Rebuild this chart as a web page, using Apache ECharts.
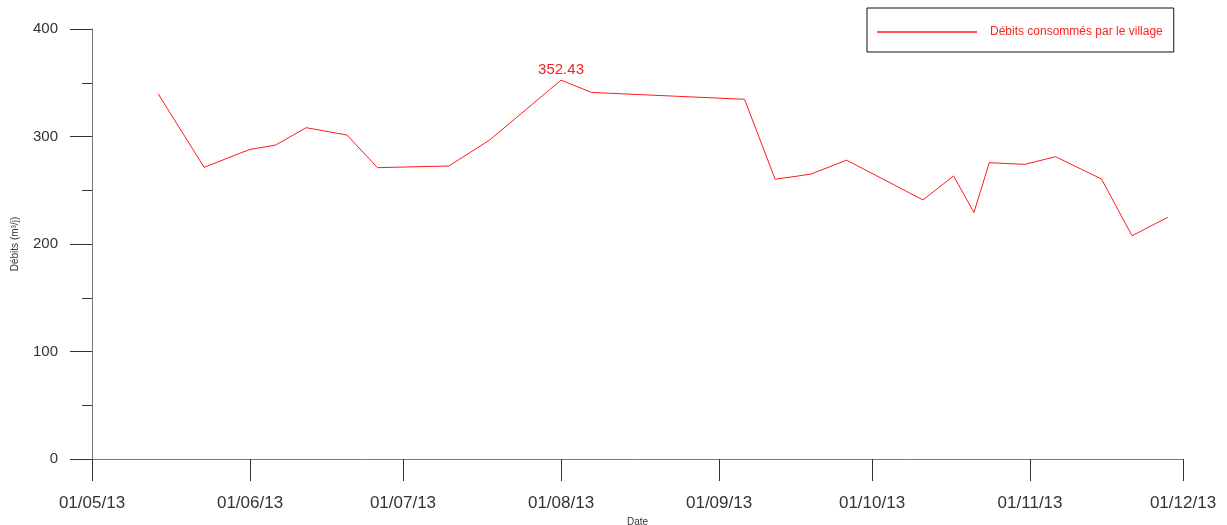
<!DOCTYPE html>
<html>
<head>
<meta charset="utf-8">
<script src="https://cdn.jsdelivr.net/npm/echarts@6/dist/echarts.min.js"></script>
<style>html,body{margin:0;padding:0;background:#fff}#c{width:1227px;height:525px}</style>
</head>
<body>
<div id="c"></div>
<script>
const dates = ['2013-05-14','2013-05-23','2013-05-30','2013-06-01','2013-06-06','2013-06-12','2013-06-20','2013-06-26','2013-07-10','2013-07-18','2013-08-01','2013-08-07','2013-09-06','2013-09-12','2013-09-19','2013-09-26','2013-10-11','2013-10-17','2013-10-21','2013-10-24','2013-10-31','2013-11-06','2013-11-15','2013-11-21','2013-11-28'];
const debits = [339.5,271.3,284.4,288,292,308.2,301.4,271,272.6,296.7,352.43,341,334.6,260.2,265,278,241,263.3,229.3,275.6,274.1,281.2,260.5,207.7,224.8];
const seriesName = 'Débits consommés par le village';
const xAxisName = 'Date';
const yAxisName = 'Débits (m³/j)';
const xMin = '2013-05-01';
const xMax = '2013-12-01';
const yTicks = [0,100,200,300,400];

function pad(n){return (n<10?'0':'')+n;}
const chart = echarts.init(document.getElementById('c'));
chart.setOption({
  animation:false,
  textStyle:{fontFamily:'Liberation Sans, Arial, sans-serif'},
  grid:{left:92,right:44,top:29,bottom:66,outerBoundsMode:'none',containLabel:false},
  legend:{
    left:867, top:8,
    padding:[18,11,14,10],
    borderColor:'#111', borderWidth:1,
    icon:'rect',
    itemWidth:100, itemHeight:1.5,
    textStyle:{color:'#ff2020',fontSize:12,padding:[0,0,0,8]},
    data:[seriesName]
  },
  xAxis:{
    type:'time',
    min:xMin, max:xMax,
    splitNumber:7,
    name:xAxisName, nameLocation:'middle', nameGap:54,
    nameTextStyle:{fontSize:10,color:'#333'},
    axisLine:{lineStyle:{color:'#777',width:1}},
    axisTick:{show:true,inside:false,length:22,lineStyle:{color:'#333'}},
    axisLabel:{
      fontSize:17,color:'#333',margin:36,showMaxLabel:true,showMinLabel:true,
      formatter:function(v){const d=new Date(v);return pad(d.getDate())+'/'+pad(d.getMonth()+1)+'/'+String(d.getFullYear()).slice(2);}
    },
    splitLine:{show:false},
    minorTick:{show:false}
  },
  yAxis:{
    type:'value',
    min:yTicks[0], max:yTicks[yTicks.length-1], interval:100,
    name:yAxisName, nameLocation:'middle', nameGap:72,
    nameTextStyle:{fontSize:10,color:'#333'},
    axisLine:{show:true,lineStyle:{color:'#777',width:1}},
    axisTick:{show:true,inside:false,length:22,lineStyle:{color:'#333'}},
    minorTick:{show:true,splitNumber:2,length:10,lineStyle:{color:'#333'}},
    axisLabel:{fontSize:15,color:'#333',margin:34},
    splitLine:{show:false}
  },
  series:[{
    name:seriesName,
    type:'line',
    data:dates.map((d,i)=>[d,debits[i]]),
    showSymbol:false,
    symbol:'none',
    lineStyle:{color:'#ff1a1a',width:1},
    itemStyle:{color:'#ff1a1a'},
    markPoint:{
      symbol:'circle', symbolSize:0,
      data:[{type:'max'}],
      label:{show:true,position:'top',distance:3,color:'#ee2222',fontSize:15,formatter:p=>p.value.toFixed(2)}
    }
  }]
});
</script>
</body>
</html>
